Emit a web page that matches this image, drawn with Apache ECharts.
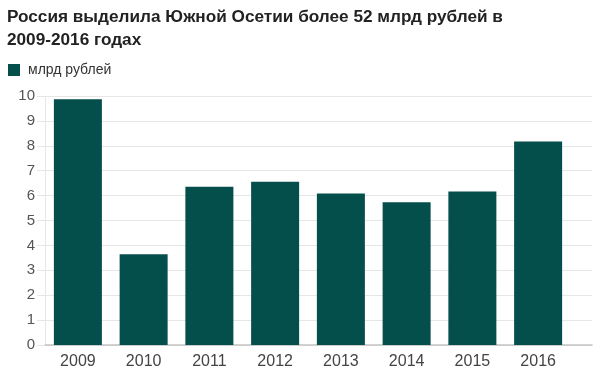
<!DOCTYPE html>
<html>
<head>
<meta charset="utf-8">
<script src="https://cdn.jsdelivr.net/npm/echarts@6/dist/echarts.min.js"></script>
<style>
html,body{margin:0;padding:0;background:#fff;}
#chart{width:600px;height:379px;}
</style>
</head>
<body>
<div id="chart"></div>
<script>
const categories = ['2009','2010','2011','2012','2013','2014','2015','2016'];
const values = [9.87, 3.64, 6.36, 6.56, 6.08, 5.73, 6.16, 8.17];
const seriesName = 'млрд рублей';
const titleText = 'Россия выделила Южной Осетии более 52 млрд рублей в\n2009-2016 годах';

const chart = echarts.init(document.getElementById('chart'), null, {renderer:'canvas'});
const font = 'Liberation Sans, Arial, sans-serif';
const gridColor = '#e6e6e6';
chart.setOption({
  animation:false,
  backgroundColor:'#fff',
  title:{
    text:titleText, left:7, top:6, padding:0,
    textStyle:{fontFamily:font, fontSize:17.2, fontWeight:'bold', color:'#222', lineHeight:23}
  },
  legend:{
    left:8, top:63, padding:0, itemWidth:12, itemHeight:12, icon:'rect', itemGap:10,
    textStyle:{fontFamily:font, fontSize:14, color:'#333', padding:[0,0,0,3]},
    data:[seriesName]
  },
  grid:[
    {left:45, right:8, top:96, bottom:34},
    {left:45, width:526, top:96, bottom:34}
  ],
  xAxis:[
    {gridIndex:0, type:'value', min:0, max:1, show:true,
     axisLine:{show:true, lineStyle:{color:'#c4c4c4', width:1.5}},
     axisTick:{show:false}, axisLabel:{show:false}, splitLine:{show:false}},
    {gridIndex:1, type:'category', data:categories,
     axisLine:{show:false}, axisTick:{show:false},
     axisLabel:{fontFamily:font, fontSize:16, color:'#444', margin:9}}
  ],
  yAxis:[
    {gridIndex:0, type:'value', min:0, max:10, interval:1,
     axisLine:{show:true, lineStyle:{color:gridColor}},
     axisTick:{show:true, length:8, lineStyle:{color:gridColor}},
     axisLabel:{fontFamily:font, fontSize:15, color:'#555', margin:10},
     splitLine:{lineStyle:{color:gridColor}}},
    {gridIndex:1, type:'value', min:0, max:10, show:false, splitLine:{show:false}}
  ],
  series:[{
    name:seriesName, type:'bar', xAxisIndex:1, yAxisIndex:1,
    data:values, barWidth:48,
    itemStyle:{color:'#044e4b'}
  }]
});
</script>
</body>
</html>
